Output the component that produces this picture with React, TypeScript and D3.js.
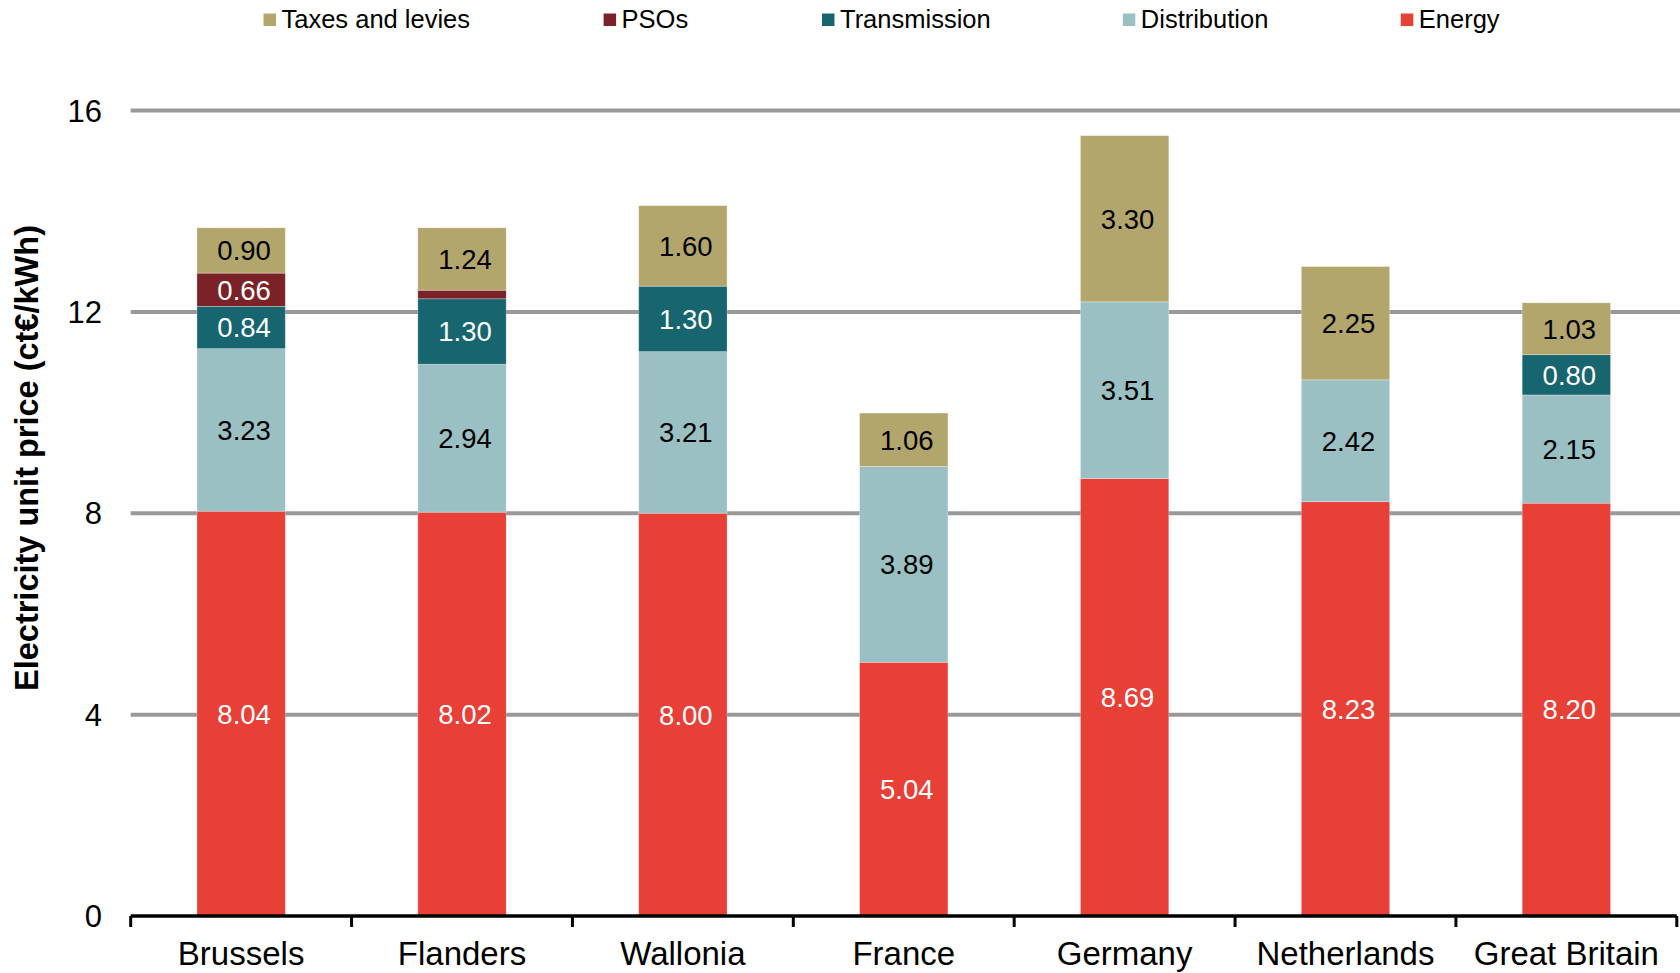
import React from "react";
import * as d3 from "d3";

const categories = ["Brussels", "Flanders", "Wallonia", "France", "Germany", "Netherlands", "Great Britain"];
const seriesNames = ["Energy", "Distribution", "Transmission", "PSOs", "Taxes and levies"];
const energy = [8.04, 8.02, 8.0, 5.04, 8.69, 8.23, 8.2];
const distribution = [3.23, 2.94, 3.21, 3.89, 3.51, 2.42, 2.15];
const transmission = [0.84, 1.3, 1.3, 0, 0, 0, 0.8];
const psos = [0.66, 0.17, 0, 0, 0, 0, 0];
const taxes = [0.9, 1.24, 1.6, 1.06, 3.3, 2.25, 1.03];
const showLabel = [
  [true, true, true, true, true, true, true],
  [true, true, true, true, true, true, true],
  [true, true, true, false, false, false, true],
  [true, false, false, false, false, false, false],
  [true, true, true, true, true, true, true],
];
const yTicks = [0, 4, 8, 12, 16];
const legendOrder = ["Taxes and levies", "PSOs", "Transmission", "Distribution", "Energy"];
const legendX = [263.5, 603.6, 822, 1122.8, 1400.8];

const colors: Record<string, string> = {
  Energy: "#E84037",
  Distribution: "#9BC0C3",
  Transmission: "#17656E",
  PSOs: "#7B2228",
  "Taxes and levies": "#B3A66C",
};
const labelColors: Record<string, string> = {
  Energy: "#ffffff",
  Distribution: "#000000",
  Transmission: "#ffffff",
  PSOs: "#ffffff",
  "Taxes and levies": "#000000",
};

export default function App() {
  const W = 1680, H = 973;
  const series = [energy, distribution, transmission, psos, taxes];
  const y = d3.scaleLinear().domain([0, 16]).range([916, 110.5]);
  const x = d3.scaleBand<string>().domain(categories).range([130.7, 1676.8]).paddingInner(0.6).paddingOuter(0.3);
  const step = x.step();
  const x0 = 130.7;

  const rows = categories.map((c, i) => {
    const o: any = { cat: c };
    seriesNames.forEach((s, k) => (o[s] = series[k][i]));
    return o;
  });
  const stacked = d3.stack<any>().keys(seriesNames)(rows);
  const font = "'Liberation Sans', Arial, sans-serif";

  return (
    <div style={{ position: "absolute", left: 0, top: 0 }}>
      <svg width={W} height={H} style={{ display: "block", background: "#fff" }} fontFamily={font}>
        {yTicks.filter((t) => t > 0).map((t) => (
          <line key={t} x1={130.7} x2={1680} y1={y(t)} y2={y(t)} stroke="#999" strokeWidth={4} />
        ))}
        {yTicks.map((t) => (
          <text key={t} x={102} y={y(t)} dy="0.36em" textAnchor="end" fontSize={31} fill="#000">
            {t}
          </text>
        ))}
        {stacked.map((layer) => (
          <g key={layer.key}>
            {layer.map((d, i) => {
              const v = d[1] - d[0];
              if (v <= 0) return null;
              return (
                <rect
                  key={i}
                  x={x(categories[i])}
                  width={x.bandwidth()}
                  y={y(d[1])}
                  height={y(d[0]) - y(d[1])}
                  fill={colors[layer.key]}
                  stroke="rgba(255,255,255,0.35)"
                  strokeWidth={0.8}
                />
              );
            })}
          </g>
        ))}
        {stacked.map((layer, k) => (
          <g key={"l" + layer.key}>
            {layer.map((d, i) => {
              const v = d[1] - d[0];
              if (v <= 0 || !showLabel[k][i]) return null;
              return (
                <text
                  key={i}
                  x={(x(categories[i]) as number) + x.bandwidth() / 2 + 3}
                  y={(y(d[0]) + y(d[1])) / 2}
                  dy="0.36em"
                  textAnchor="middle"
                  fontSize={27.5}
                  fill={labelColors[layer.key]}
                >
                  {v.toFixed(2)}
                </text>
              );
            })}
          </g>
        ))}
        <line x1={x0} x2={1676.8} y1={y(0)} y2={y(0)} stroke="#000" strokeWidth={3.5} />
        {d3.range(categories.length + 1).map((i) => (
          <line key={i} x1={x0 + i * step} x2={x0 + i * step} y1={y(0)} y2={y(0) + 11} stroke="#000" strokeWidth={3} />
        ))}
        {categories.map((c) => (
          <text key={c} x={(x(c) as number) + x.bandwidth() / 2} y={965} textAnchor="middle" fontSize={33} fill="#000">
            {c}
          </text>
        ))}
        <text
          transform={`translate(38,458) rotate(-90)`}
          textAnchor="middle"
          fontSize={32.5}
          fontWeight="bold"
          fill="#000"
        >
          Electricity unit price (ct€/kWh)
        </text>
        {legendOrder.map((s, i) => (
          <g key={s}>
            <rect x={legendX[i]} y={13.5} width={12.5} height={12.5} fill={colors[s]} />
            <text x={legendX[i] + 18} y={27.5} fontSize={25.5} fill="#000">
              {s}
            </text>
          </g>
        ))}
      </svg>
    </div>
  );
}
